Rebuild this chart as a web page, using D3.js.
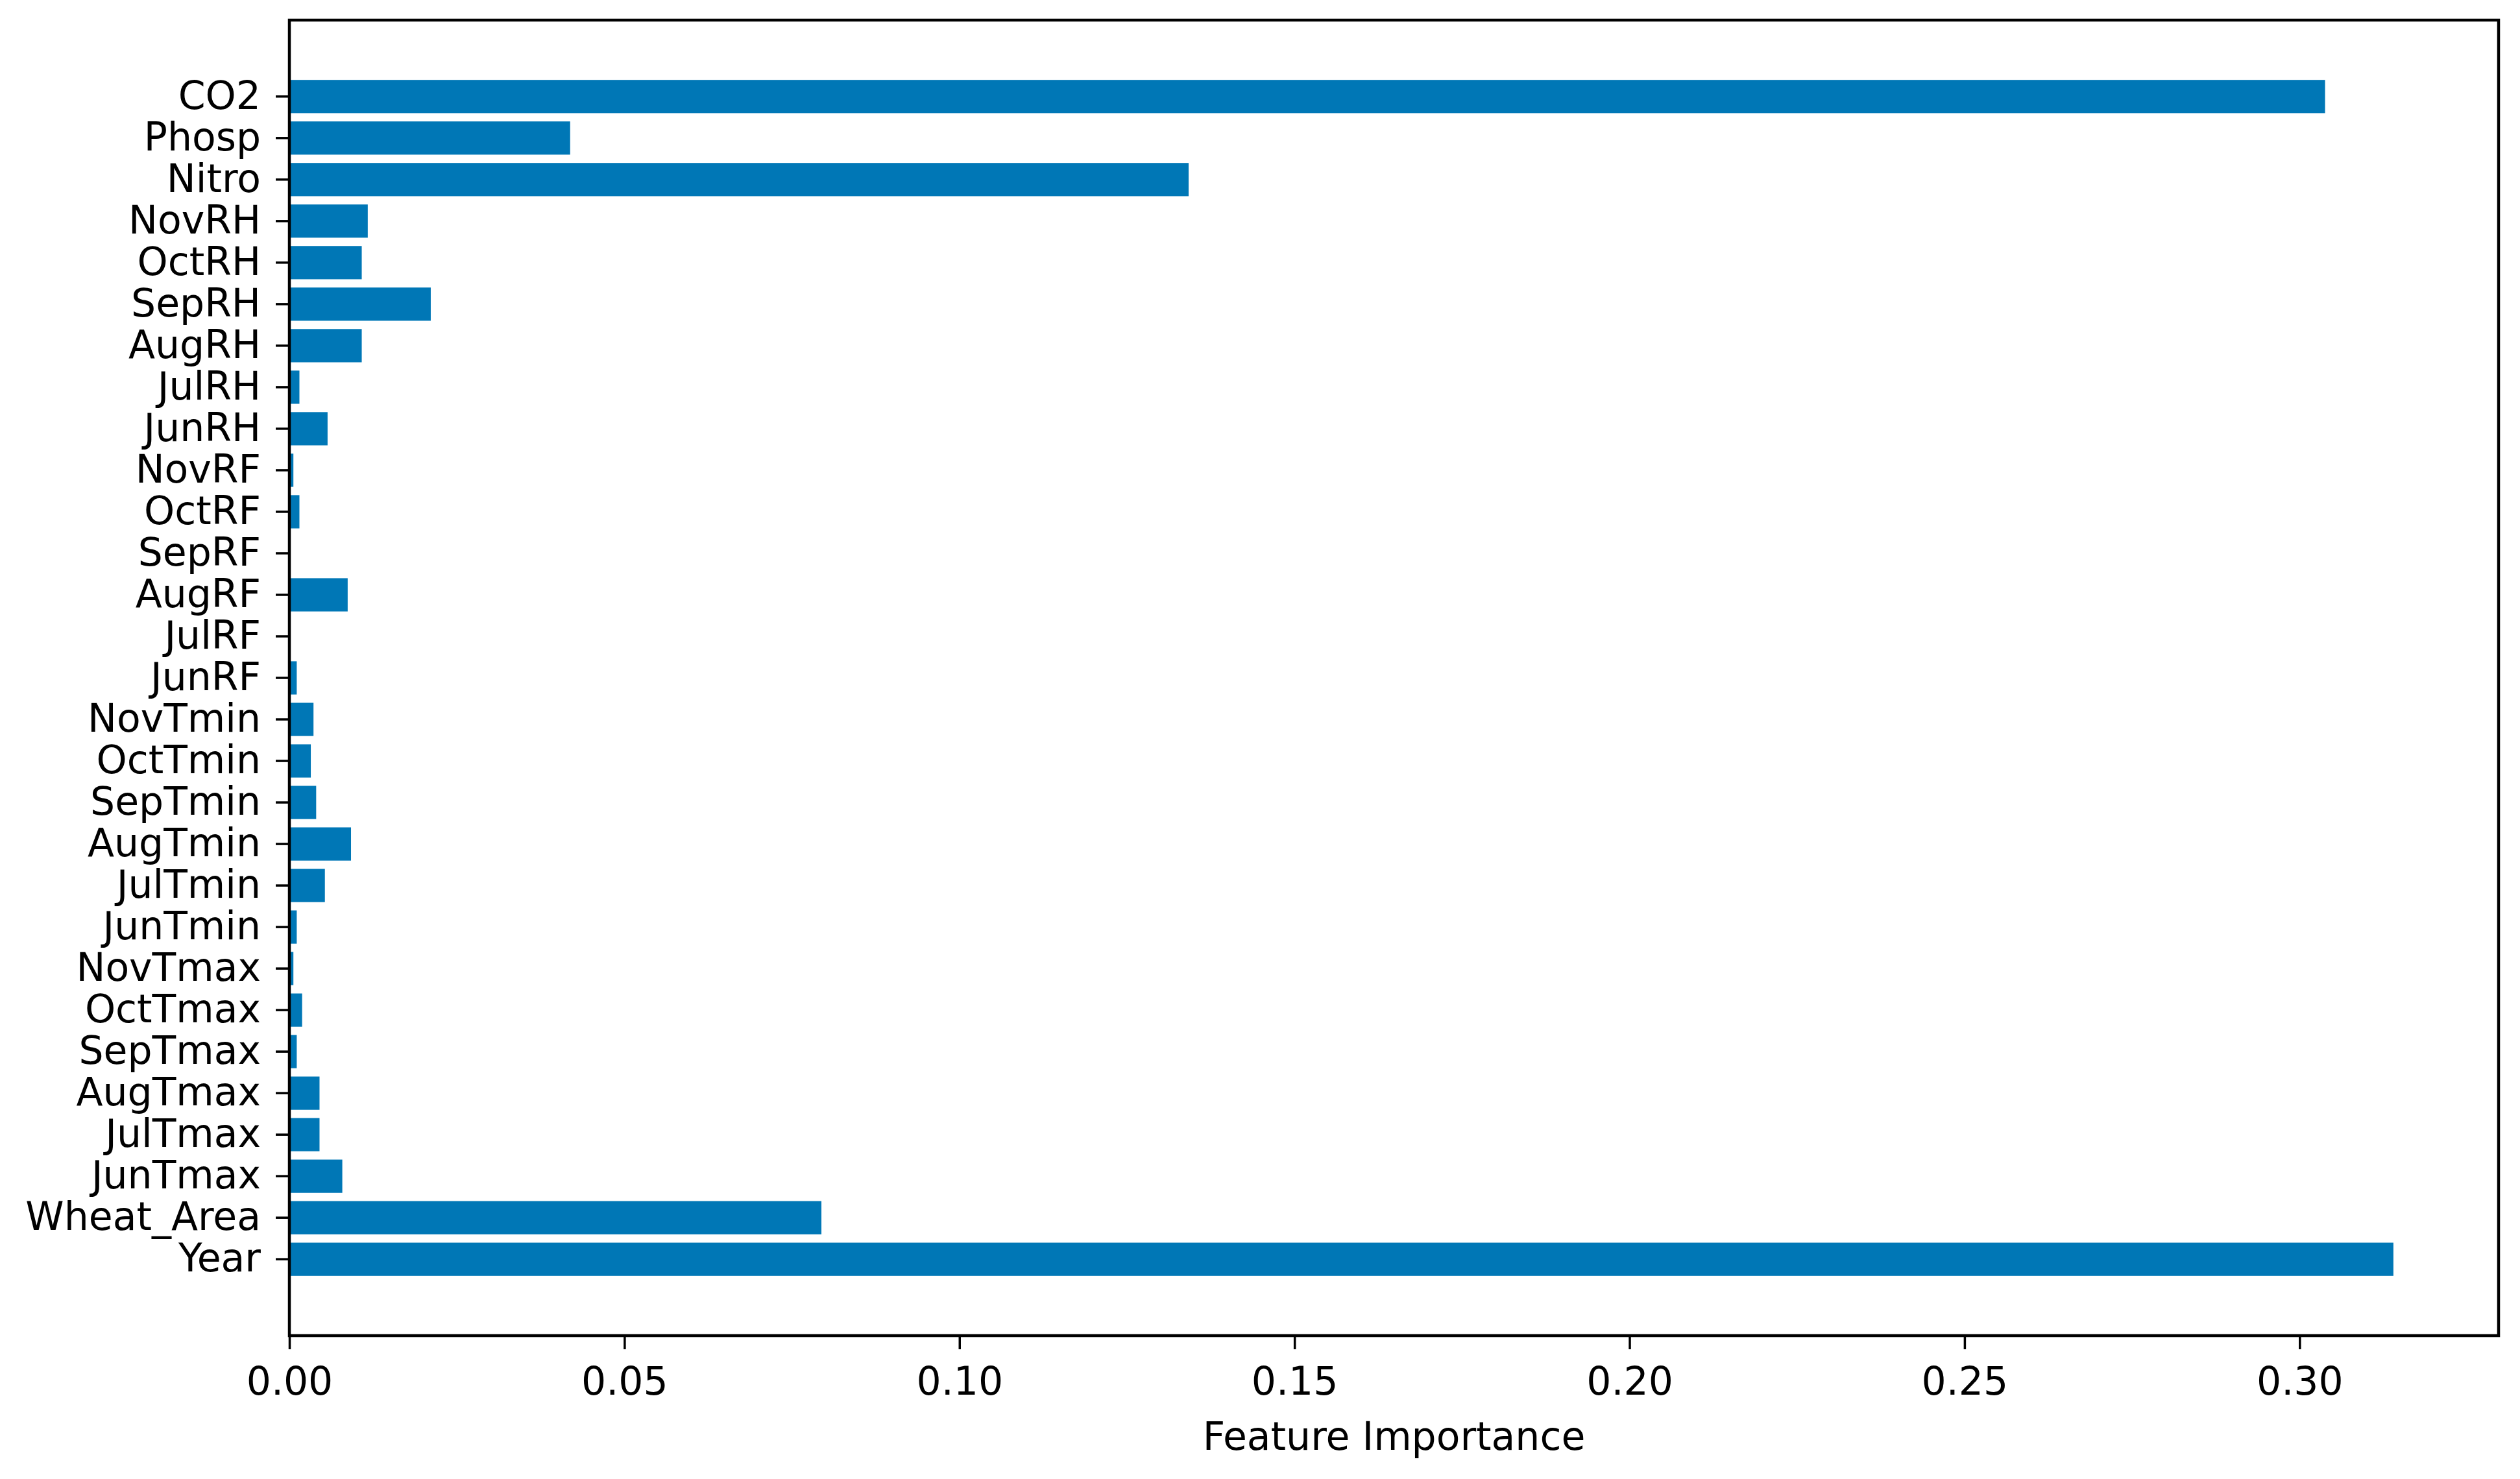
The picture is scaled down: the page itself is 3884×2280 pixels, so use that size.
<!DOCTYPE html>
<html>
<head>
<meta charset="utf-8">
<script src="https://cdn.jsdelivr.net/npm/d3@7"></script>
<style>
  html, body { margin: 0; padding: 0; background: #ffffff; }
  svg { display: block; }
  text { font-family: "DejaVu Sans", sans-serif; fill: #000; }
</style>
</head>
<body>
<svg id="chart" width="3884" height="2280"></svg>
<script>
// Categories from bottom (first) to top (last)
const categories = ["Year", "Wheat_Area", "JunTmax", "JulTmax", "AugTmax", "SepTmax", "OctTmax", "NovTmax",
  "JunTmin", "JulTmin", "AugTmin", "SepTmin", "OctTmin", "NovTmin",
  "JunRF", "JulRF", "AugRF", "SepRF", "OctRF", "NovRF",
  "JunRH", "JulRH", "AugRH", "SepRH", "OctRH", "NovRH",
  "Nitro", "Phosp", "CO2"];
const importance = [0.3140, 0.0794, 0.0079, 0.0045, 0.0045, 0.0011, 0.0019, 0.0006,
  0.0011, 0.0053, 0.0092, 0.0040, 0.0032, 0.0036,
  0.0011, 0.0000, 0.0087, 0.0000, 0.0015, 0.0006,
  0.0057, 0.0015, 0.0108, 0.0211, 0.0108, 0.0117,
  0.1342, 0.0419, 0.3038];
const xTicks = [0.00, 0.05, 0.10, 0.15, 0.20, 0.25, 0.30];
const xLabel = "Feature Importance";

(function () {
const mLeft = 446, mRight = 3851, mTop = 31, mBottom = 2059;
const svg = d3.select("#chart");
svg.append("rect").attr("width", 3884).attr("height", 2280).attr("fill", "#fff");

const x = d3.scaleLinear()
  .domain([0, d3.max(importance) * 1.05])
  .range([mLeft, mRight]);

const y = d3.scaleBand()
  .domain(categories.slice().reverse())
  .range([mTop, mBottom])
  .paddingInner(0.2)
  .paddingOuter(1.44);

const data = categories.map((c, i) => ({ name: c, value: importance[i] }));

svg.append("g").selectAll("rect").data(data).join("rect")
  .attr("x", x(0))
  .attr("y", d => y(d.name))
  .attr("width", d => x(d.value) - x(0))
  .attr("height", y.bandwidth())
  .attr("fill", "#0077b6");

// X axis
const gx = svg.append("g")
  .attr("transform", `translate(0,${mBottom})`)
  .call(d3.axisBottom(x).tickValues(xTicks).tickFormat(d3.format(".2f")).tickSize(21).tickPadding(21));
gx.select(".domain").remove();
gx.selectAll(".tick line").attr("stroke", "#000").attr("stroke-width", 3.5);
gx.selectAll(".tick text").attr("dy", null).attr("y", 91)
  .attr("font-size", 60).attr("font-family", "DejaVu Sans").attr("fill", "#000");

// Y axis
const gy = svg.append("g")
  .attr("transform", `translate(${mLeft},0)`)
  .call(d3.axisLeft(y).tickSize(21).tickPadding(23));
gy.select(".domain").remove();
gy.selectAll(".tick line").attr("stroke", "#000").attr("stroke-width", 3.5);
gy.selectAll(".tick text").attr("dy", "0.32em")
  .attr("font-size", 60).attr("font-family", "DejaVu Sans").attr("fill", "#000");

// Frame
svg.append("rect")
  .attr("x", mLeft).attr("y", mTop)
  .attr("width", mRight - mLeft).attr("height", mBottom - mTop)
  .attr("fill", "none").attr("stroke", "#000").attr("stroke-width", 4.5);

// X label
svg.append("text")
  .attr("x", (mLeft + mRight) / 2).attr("y", 2235)
  .attr("text-anchor", "middle")
  .attr("font-size", 60)
  .text(xLabel);
})();
</script>
</body>
</html>
